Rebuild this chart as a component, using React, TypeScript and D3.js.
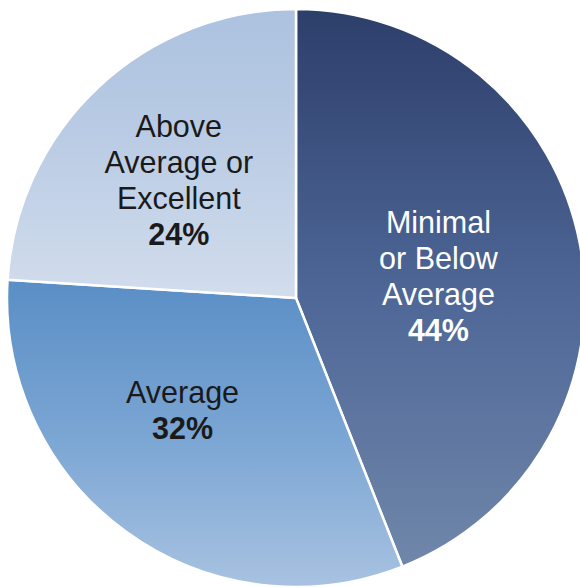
import React from "react";
import * as d3 from "d3";

const categories = ["Minimal or Below Average", "Average", "Above Average or Excellent"];
const labelLines = [["Minimal", "or Below", "Average"], ["Average"], ["Above", "Average or", "Excellent"]];
const values = [44, 32, 24];
const percentLabels = ["44%", "32%", "24%"];

const W = 580;
const H = 587;
const cx = 296;
const cy = 298;
const R = 289;

const gradients = [
  { top: "#2d3e6a", mid: "#4d6696", bottom: "#7087aa" },
  { top: "#5a8ec6", mid: "#7aa5d3", bottom: "#a8c2e1" },
  { top: "#acc2df", mid: "#bccde5", bottom: "#d2ddec" },
];
const textColors = ["#ffffff", "#1a1a1a", "#1a1a1a"];
const labelRadius = [144, 160, 166];
const labelAngleShift = [0.04, 0.16, -0.03];

export default function App() {
  const pie = d3.pie<number>().sort(null).value((d) => d);
  const arcs = pie(values);
  const arc = d3.arc<d3.PieArcDatum<number>>().innerRadius(0).outerRadius(R);
  const fontSize = 30.5;
  const lh = 36;

  return (
    <svg
      width={W}
      height={H}
      style={{ position: "fixed", left: 0, top: 0, display: "block", background: "#fff" }}
    >
      <defs>
        {gradients.map((g, i) => (
          <linearGradient key={i} id={`g${i}`} x1="0" y1="0" x2="0" y2="1">
            <stop offset="0%" stopColor={g.top} />
            <stop offset="50%" stopColor={g.mid} />
            <stop offset="100%" stopColor={g.bottom} />
          </linearGradient>
        ))}
      </defs>
      <g transform={`translate(${cx},${cy})`}>
        {arcs.map((a, i) => (
          <path key={categories[i]} d={arc(a) || ""} fill={`url(#g${i})`} stroke="#ffffff" strokeWidth={2.5} strokeLinejoin="round" />
        ))}
        {arcs.map((a, i) => {
          const mid = (a.startAngle + a.endAngle) / 2 + labelAngleShift[i];
          const x = Math.sin(mid) * labelRadius[i];
          const y = -Math.cos(mid) * labelRadius[i];
          const lines = [...labelLines[i], percentLabels[i]];
          const n = lines.length;
          const firstBaseline = y - ((n - 1) * lh) / 2 + 28 * 0.36;
          return (
            <text
              key={`t${i}`}
              textAnchor="middle"
              fontFamily="'Liberation Sans', Arial, sans-serif"
              fontSize={fontSize}
              fill={textColors[i]}
            >
              {lines.map((ln, j) => (
                <tspan
                  key={j}
                  x={x}
                  y={firstBaseline + j * lh}
                  fontWeight={j === n - 1 ? "bold" : "normal"}
                >
                  {ln}
                </tspan>
              ))}
            </text>
          );
        })}
      </g>
    </svg>
  );
}
